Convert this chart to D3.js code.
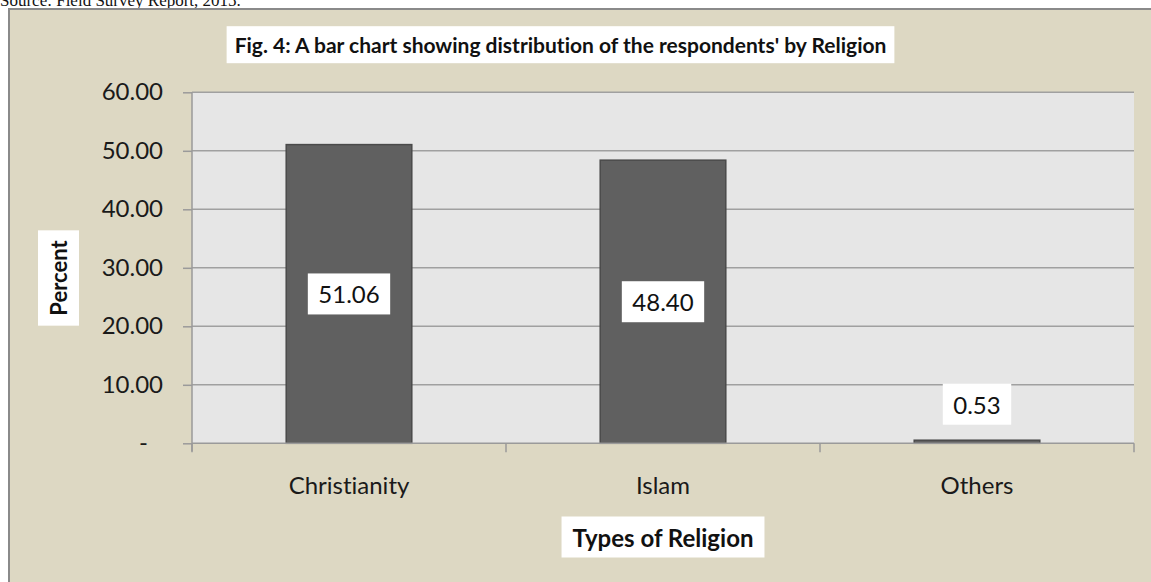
<!DOCTYPE html>
<html>
<head>
<meta charset="utf-8">
<script src="https://cdn.jsdelivr.net/npm/d3@7/dist/d3.min.js"></script>
<style>
  html, body { margin: 0; padding: 0; background: #ffffff; overflow: hidden; }
  svg { display: block; }
  text { font-variant-ligatures: none; font-feature-settings: "liga" 0, "clig" 0; }
</style>
</head>
<body>
<svg id="chart" width="1151" height="582"></svg>
<script>
// Respondents by religion (percent)
const categories = ["Christianity", "Islam", "Others"];
const percents = [51.06, 48.40, 0.53];
const yTicks = [0, 10, 20, 30, 40, 50, 60];

const titleText = "Fig. 4: A bar chart showing distribution of the respondents' by Religion";
const yTitle = "Percent";
const xTitle = "Types of Religion";
const sourceText = "Source: Field Survey Report, 2015.";

const W = 1151, H = 582;
const plot = { left: 192, right: 1134, top: 92.3, bottom: 443.3 };
const sans = "Lato, 'Open Sans', sans-serif";

const svg = d3.select("#chart");

// caption line above the frame (partly hidden by it)
svg.append("text")
  .attr("x", 0).attr("y", 6)
  .attr("font-family", "'Liberation Serif', 'Times New Roman', serif")
  .attr("font-size", 17)
  .attr("fill", "#111")
  .text(sourceText);

// chart frame
svg.append("rect")
  .attr("x", 9).attr("y", 9)
  .attr("width", W + 20).attr("height", H + 20)
  .attr("fill", "#ddd8c3")
  .attr("stroke", "#8a8a8a")
  .attr("stroke-width", 2);

const x = d3.scaleBand()
  .domain(categories)
  .range([plot.left, plot.right])
  .paddingInner(0.6)
  .paddingOuter(0.3);

const y = d3.scaleLinear()
  .domain([0, 60])
  .range([plot.bottom, plot.top]);

// plot area
svg.append("rect")
  .attr("x", plot.left).attr("y", plot.top)
  .attr("width", plot.right - plot.left)
  .attr("height", plot.bottom - plot.top)
  .attr("fill", "#e6e6e6");

// gridlines + y axis
const yAxis = d3.axisLeft(y)
  .tickValues(yTicks)
  .tickSize(9)
  .tickPadding(20)
  .tickFormat(d => d === 0 ? "-" : d3.format(".2f")(d));

const gy = svg.append("g")
  .attr("transform", `translate(${plot.left},0)`)
  .call(yAxis);
gy.select(".domain").remove();
gy.selectAll(".tick line").attr("stroke", "#9a9a9a").attr("stroke-width", 1.5);
gy.selectAll(".tick text")
  .attr("font-family", sans)
  .attr("font-size", 24)
  .attr("fill", "#1a1a1a")
  .attr("dx", d => d === 0 ? -15 : 0);

svg.append("g").selectAll("line")
  .data(yTicks.filter(d => d > 0))
  .join("line")
  .attr("x1", plot.left).attr("x2", plot.right)
  .attr("y1", d => y(d)).attr("y2", d => y(d))
  .attr("stroke", "#a0a0a0").attr("stroke-width", 1.5);

// left axis line
svg.append("line")
  .attr("x1", plot.left).attr("x2", plot.left)
  .attr("y1", plot.top).attr("y2", plot.bottom + 8)
  .attr("stroke", "#9a9a9a").attr("stroke-width", 1.5);

// bars
svg.append("g").selectAll("rect")
  .data(categories.map((c, i) => ({ c, v: percents[i] })))
  .join("rect")
  .attr("x", d => x(d.c))
  .attr("y", d => y(d.v))
  .attr("width", x.bandwidth())
  .attr("height", d => y(0) - y(d.v))
  .attr("fill", "#606060")
  .attr("stroke", "#4a4a4a")
  .attr("stroke-width", 1.5);

// x axis line and category dividers
svg.append("line")
  .attr("x1", plot.left).attr("x2", plot.right)
  .attr("y1", plot.bottom).attr("y2", plot.bottom)
  .attr("stroke", "#9a9a9a").attr("stroke-width", 1.5);

const bounds = categories.map(c => x(c) - x.step() * x.paddingOuter()).concat([plot.right]);
svg.append("g").selectAll("line")
  .data(bounds)
  .join("line")
  .attr("x1", d => d).attr("x2", d => d)
  .attr("y1", plot.bottom).attr("y2", plot.bottom + 9)
  .attr("stroke", "#9a9a9a").attr("stroke-width", 1.5);

// category labels
svg.append("g").selectAll("text")
  .data(categories)
  .join("text")
  .attr("x", d => x(d) + x.bandwidth() / 2)
  .attr("y", 494)
  .attr("text-anchor", "middle")
  .attr("font-family", sans)
  .attr("font-size", 24)
  .attr("fill", "#1a1a1a")
  .text(d => d);

// helper: text on a white box
function boxedText(g, cx, cy, str, opts) {
  const t = g.append("text")
    .attr("x", cx).attr("y", cy)
    .attr("text-anchor", "middle")
    .attr("dominant-baseline", "central")
    .attr("font-family", sans)
    .attr("font-size", opts.size)
    .attr("font-weight", opts.weight || "normal")
    .attr("fill", "#111")
    .attr("transform", opts.rotate ? `rotate(-90,${cx},${cy})` : null)
    .text(str);
  const w = t.node().getComputedTextLength();
  const bw = w + opts.padX * 2, bh = opts.boxH;
  const r = g.insert("rect", () => t.node())
    .attr("fill", "#ffffff");
  if (opts.rotate) {
    r.attr("x", cx - bh / 2).attr("y", cy - bw / 2).attr("width", bh).attr("height", bw);
  } else {
    r.attr("x", cx - bw / 2).attr("y", cy - bh / 2).attr("width", bw).attr("height", bh);
  }
  return t;
}

// value labels
const labels = svg.append("g");
categories.forEach((c, i) => {
  const v = percents[i];
  const cx = x(c) + x.bandwidth() / 2;
  const cy = v > 5 ? (y(v) + y(0)) / 2 : y(v) - 36;
  boxedText(labels, cx, cy, d3.format(".2f")(v), { size: 24, padX: 10.5, boxH: 41 });
});

// title and axis titles
const titles = svg.append("g");
boxedText(titles, 560.5, 44.7, titleText, { size: 21, weight: "bold", padX: 8, boxH: 37 });
boxedText(titles, (plot.left + plot.right) / 2, 537, xTitle, { size: 24, weight: "bold", padX: 11, boxH: 41 });
boxedText(titles, 58.5, 278, yTitle, { size: 22, weight: "bold", padX: 10, boxH: 41, rotate: true });
</script>
</body>
</html>
